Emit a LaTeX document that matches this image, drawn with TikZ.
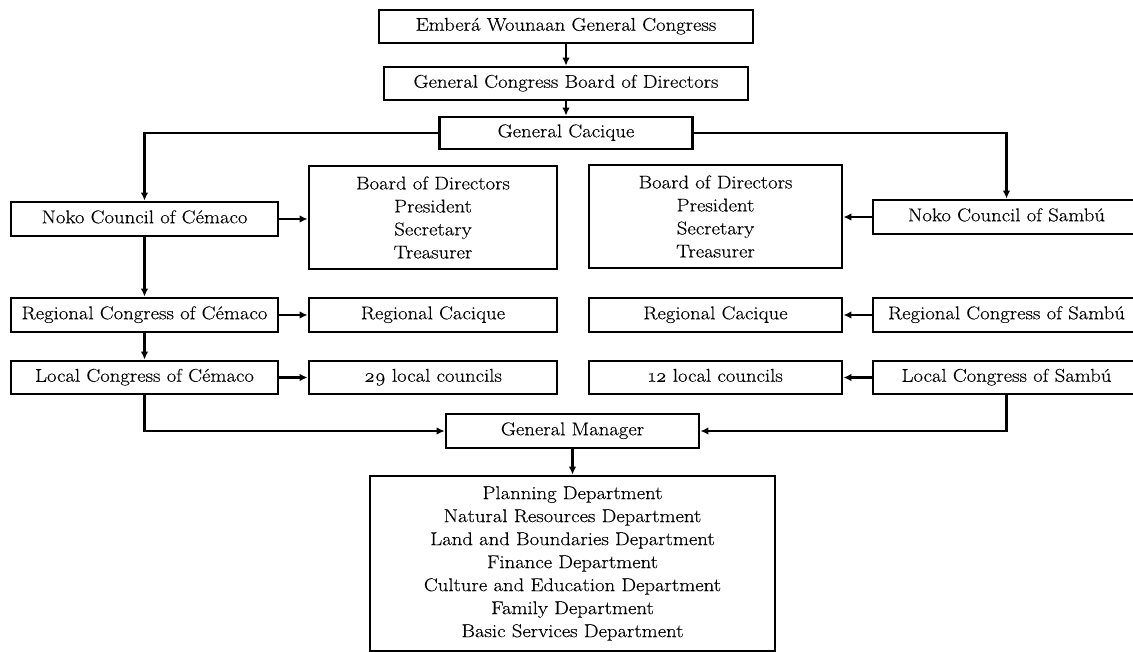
\documentclass[tikz,border=0pt]{standalone}
\usepackage{fontspec}
\setmainfont{Latin Modern Roman}[FakeStretch=1.12, FakeBold=0.25]
\usetikzlibrary{arrows.meta}
\begin{document}
\begin{tikzpicture}[x=1pt,y=-1pt,
  orgbox/.style={draw, line width=2.7pt, inner sep=0pt, align=center,
    font=\fontsize{18.5}{23}\selectfont},
  onebox/.style={orgbox, text height=12.5pt, text depth=4pt},
  link/.style={line width=2.3pt, -{Latex[length=8pt,width=7.5pt]}}]
\useasboundingbox (0,0) rectangle (1133,652);
\clip (0,0) rectangle (1133,652);

% top chain
\node[onebox, minimum width=374, minimum height=33] (ewgc) at (566,26.5) {Emberá Wounaan General Congress};
\node[onebox, minimum width=364, minimum height=33] (gcbd) at (566,83.5) {General Congress Board of Directors};
\node[onebox, minimum width=253, minimum height=32] (gcac) at (566,133) {General Cacique};

% Cémaco branch
\node[onebox, minimum width=267, minimum height=34] (nokoc) at (144.5,219) {Noko Council of Cémaco};
\node[onebox, minimum width=267, minimum height=34] (regc) at (144.5,315) {Regional Congress of Cémaco};
\node[onebox, minimum width=267, minimum height=33] (locc) at (144.5,377.5) {Local Congress of Cémaco};
\node[orgbox, minimum width=248, minimum height=103] (boardl) at (433,217.5) {Board of Directors\\President\\Secretary\\Treasurer};
\node[onebox, minimum width=248, minimum height=34] (caciql) at (433,315) {Regional Cacique};
\node[onebox, minimum width=248, minimum height=33] (councl) at (433,377.5) {\oldstylenums{29} local councils};

% Sambú branch
\node[onebox, minimum width=267, minimum height=34] (nokos) at (1006.5,217) {Noko Council of Sambú};
\node[onebox, minimum width=267, minimum height=34] (regs) at (1006.5,315) {Regional Congress of Sambú};
\node[onebox, minimum width=267, minimum height=33] (locs) at (1006.5,377.5) {Local Congress of Sambú};
\node[orgbox, minimum width=253, minimum height=103] (boardr) at (715.5,216.5) {Board of Directors\\President\\Secretary\\Treasurer};
\node[onebox, minimum width=253, minimum height=34] (caciqr) at (715.5,315) {Regional Cacique};
\node[onebox, minimum width=253, minimum height=33] (councr) at (715.5,377.5) {\oldstylenums{12} local councils};

% management
\node[onebox, minimum width=253, minimum height=34] (gm) at (572.5,431) {General Manager};
\node[orgbox, minimum width=405, minimum height=175] (dept) at (572.5,563.5)
  {Planning Department\\Natural Resources Department\\Land and Boundaries Department\\Finance Department\\Culture and Education Department\\Family Department\\Basic Services Department};

% connectors
\draw[link] (ewgc.south) -- (gcbd.north);
\draw[link] (gcbd.south) -- (gcac.north);
\draw[link] (gcac.west) -| (nokoc.north);
\draw[link] (gcac.east) -| (nokos.north);

\draw[link] (nokoc.south) -- (regc.north);
\draw[link] (regc.south) -- (locc.north);
\draw[link] (nokoc.east) -- (boardl.west |- nokoc.east);
\draw[link] (regc.east) -- (caciql.west);
\draw[link] (locc.east) -- (councl.west);

\draw[link] (nokos.west) -- (boardr.east |- nokos.west);
\draw[link] (regs.west) -- (caciqr.east);
\draw[link] (locs.west) -- (councr.east);

\draw[link] (locc.south) |- (gm.west);
\draw[link] (locs.south) |- (gm.east);
\draw[link] (gm.south) -- (dept.north);
\end{tikzpicture}
\end{document}
